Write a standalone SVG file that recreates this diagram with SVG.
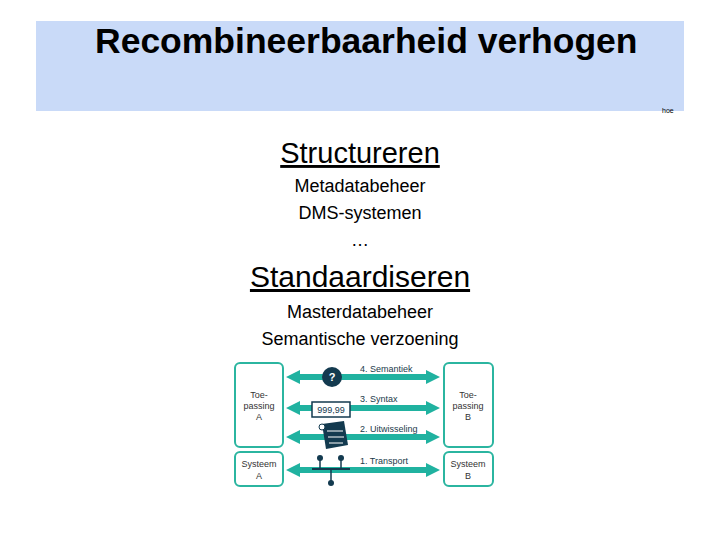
<svg xmlns="http://www.w3.org/2000/svg" width="720" height="540" viewBox="0 0 720 540">
<style>
text{font-family:"Liberation Sans",Arial,sans-serif;fill:#000}
.box{fill:#fff;stroke:#2bb5a0;stroke-width:2}
.sm{font-size:9px;fill:#333}
.arr{fill:#20b2a0}
.lbl{font-size:9px;fill:#1a3a4a}
.b{font-size:18px}
</style>
<defs>
<path id="dbl" class="arr" d="M0,0 l14,-7 v4 h126 v-4 l14,7 l-14,7 v-4 h-126 v4 z"/>
</defs>
<rect width="720" height="540" fill="#fff"/>
<g id="header">
<rect x="36" y="21" width="648" height="90" fill="#c9daf8"/>
<text x="95" y="53" font-size="35.5" font-weight="bold">Recombineerbaarheid verhogen</text>
<text x="662" y="113" font-size="7">hoe</text>
</g>
<g id="text">
<text x="360" y="163" font-size="29" text-anchor="middle" text-decoration="underline">Structureren</text>
<text class="b" x="360" y="192" text-anchor="middle">Metadatabeheer</text>
<text class="b" x="360" y="219" text-anchor="middle">DMS-systemen</text>
<text class="b" x="360" y="246" text-anchor="middle">…</text>
<text x="360" y="287" font-size="30" text-anchor="middle" text-decoration="underline">Standaardiseren</text>
<text class="b" x="360" y="318" text-anchor="middle">Masterdatabeheer</text>
<text class="b" x="360" y="345" text-anchor="middle">Semantische verzoening</text>
</g>
<g id="nodes">
<g id="toeA"><rect class="box" x="235" y="363" width="48" height="84" rx="5"/>
<text class="sm" x="259" y="398" text-anchor="middle">Toe-</text><text class="sm" x="259" y="409" text-anchor="middle">passing</text><text class="sm" x="259" y="420" text-anchor="middle">A</text></g>
<g id="sysA"><rect class="box" x="235" y="452" width="48" height="34" rx="5"/>
<text class="sm" x="259" y="467" text-anchor="middle">Systeem</text><text class="sm" x="259" y="479" text-anchor="middle">A</text></g>
<g id="toeB"><rect class="box" x="444" y="363" width="49" height="84" rx="5"/>
<text class="sm" x="468" y="398" text-anchor="middle">Toe-</text><text class="sm" x="468" y="409" text-anchor="middle">passing</text><text class="sm" x="468" y="420" text-anchor="middle">B</text></g>
<g id="sysB"><rect class="box" x="444" y="452" width="49" height="34" rx="5"/>
<text class="sm" x="468" y="467" text-anchor="middle">Systeem</text><text class="sm" x="468" y="479" text-anchor="middle">B</text></g>
</g>
<g id="connectors">
<use href="#dbl" x="286" y="377"/>
<use href="#dbl" x="286" y="408"/>
<use href="#dbl" x="286" y="437"/>
<use href="#dbl" x="286" y="470"/>
<text class="lbl" x="360" y="372">4. Semantiek</text>
<text class="lbl" x="360" y="402">3. Syntax</text>
<text class="lbl" x="360" y="432">2. Uitwisseling</text>
<text class="lbl" x="360" y="464">1. Transport</text>
</g>
<g id="icons">
<circle cx="332" cy="377" r="10" fill="#133a4f"/>
<text x="332" y="381" font-size="11" font-weight="bold" text-anchor="middle" style="fill:#fff">?</text>
<rect x="312" y="402" width="38" height="15" fill="#fff" stroke="#133a4f" stroke-width="1.5"/>
<text x="331" y="413" font-size="9" text-anchor="middle" style="fill:#133a4f">999,99</text>
<path d="M322,424 l22,-3 l4,24 l-22,4 z" fill="#133a4f"/>
<path d="M327,431 h16 M328,437 h16 M329,443 h14" stroke="#fff" stroke-width="1"/>
<circle cx="322" cy="427" r="3" fill="#fff" stroke="#133a4f"/>
<line x1="312" y1="469" x2="350" y2="469" stroke="#133a4f" stroke-width="2"/>
<line x1="320" y1="469" x2="320" y2="459" stroke="#133a4f" stroke-width="1.5"/>
<line x1="341" y1="469" x2="341" y2="459" stroke="#133a4f" stroke-width="1.5"/>
<line x1="331" y1="469" x2="331" y2="482" stroke="#133a4f" stroke-width="1.5"/>
<circle cx="320" cy="458" r="3" fill="#133a4f"/>
<circle cx="341" cy="458" r="3" fill="#133a4f"/>
<circle cx="331" cy="483" r="3" fill="#133a4f"/>
</g>
</svg>
